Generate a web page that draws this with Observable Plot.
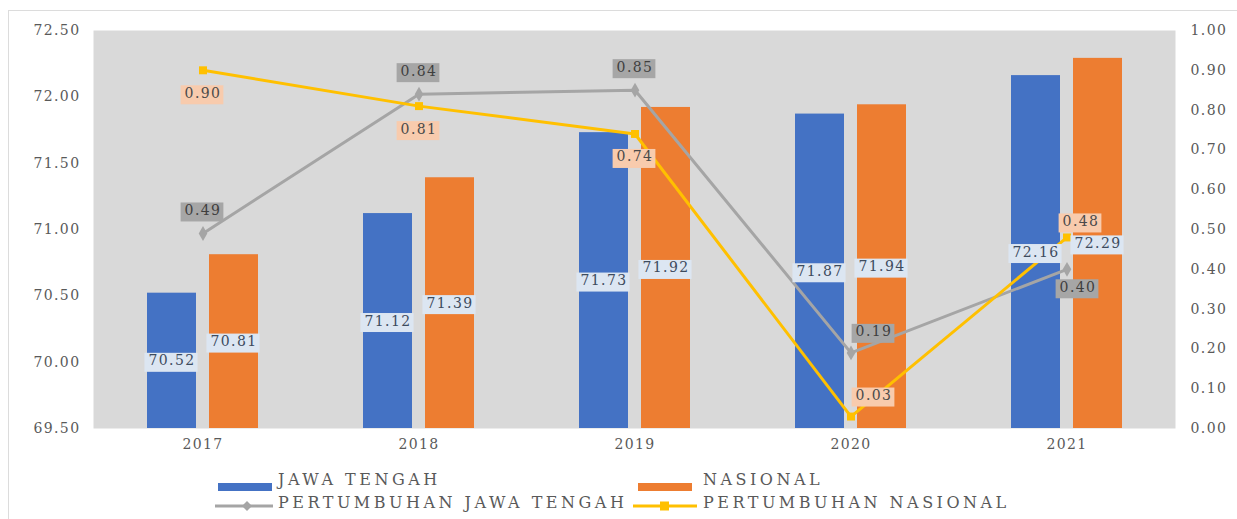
<!DOCTYPE html>
<html>
<head>
<meta charset="utf-8">
<script src="https://cdn.jsdelivr.net/npm/d3@7"></script>
<script src="https://cdn.jsdelivr.net/npm/@observablehq/plot@0.6"></script>
<style>
  html, body { margin: 0; padding: 0; background: #ffffff; }
  body { width: 1237px; height: 519px; position: relative; overflow: hidden; font-family: "DejaVu Serif", serif; }
  #frame { position: absolute; left: 8px; top: 10px; width: 1300px; height: 600px; border: 1px solid #dcdcdc; box-sizing: border-box; }
  #chart { position: absolute; left: 0; top: 0; }
  #chart svg text { letter-spacing: 1.4px; }
  .leg { position: absolute; font-family: "DejaVu Serif", serif; font-size: 16px; color: #595959; letter-spacing: 3.5px; white-space: nowrap; line-height: 20px; }
  .sw { position: absolute; }
</style>
</head>
<body>
<div id="frame"></div>
<div id="chart"></div>
<div id="legend"></div>
<script>
// ---- data ----
const years = ["2017", "2018", "2019", "2020", "2021"];
const jawaTengah = [70.52, 71.12, 71.73, 71.87, 72.16];
const nasional = [70.81, 71.39, 71.92, 71.94, 72.29];
const pertumbuhanJawaTengah = [0.49, 0.84, 0.85, 0.19, 0.40];
const pertumbuhanNasional = [0.90, 0.81, 0.74, 0.03, 0.48];
const leftTicks = [69.5, 70.0, 70.5, 71.0, 71.5, 72.0, 72.5];
const rightTicks = [0, 0.1, 0.2, 0.3, 0.4, 0.5, 0.6, 0.7, 0.8, 0.9, 1.0];
const seriesNames = ["JAWA TENGAH", "NASIONAL", "PERTUMBUHAN JAWA TENGAH", "PERTUMBUHAN NASIONAL"];
// label placement (layout only)
const jtLabelPlace = ["above", "above", "above", "upRight", "downRight"];
const nsLabelPlace = ["below", "below", "below", "upRight", "upRightNear"];
const placeOffsets = {
  above: [0, -23], below: [0, 23], upRight: [23, -21], downRight: [11, 18], upRightNear: [14, -16]
};

// ---- scales mapping for secondary axis ----
const leftDomain = [69.5, 72.5];
const rightDomain = [0, 1];
const toLeft = v => leftDomain[0] + (v - rightDomain[0]) * (leftDomain[1] - leftDomain[0]) / (rightDomain[1] - rightDomain[0]);
const fromLeft = y => rightDomain[0] + (y - leftDomain[0]) * (rightDomain[1] - rightDomain[0]) / (leftDomain[1] - leftDomain[0]);

const rows = years.map((year, i) => ({
  year, jt: jawaTengah[i], ns: nasional[i], gjt: pertumbuhanJawaTengah[i], gns: pertumbuhanNasional[i],
  jtPlace: jtLabelPlace[i], nsPlace: nsLabelPlace[i]
}));

const blue = "#4472c4", orange = "#ed7d31", grayLine = "#a5a5a5", yellow = "#ffc000";

const labelMarks = [];
const labelBg = [];
// bar labels
labelMarks.push(Plot.text(rows, {x: "year", y: d => (leftDomain[0] + d.jt) / 2, text: d => d.jt.toFixed(2), dx: -31, fill: "#3d4b5e", fontSize: 14}));
labelBg.push("#dce6f2");
labelMarks.push(Plot.text(rows, {x: "year", y: d => (leftDomain[0] + d.ns) / 2, text: d => d.ns.toFixed(2), dx: 31, fill: "#3d4b5e", fontSize: 14}));
labelBg.push("#dce6f2");
// growth labels
for (const [place, [dx, dy]] of Object.entries(placeOffsets)) {
  const g = rows.filter(d => d.jtPlace === place);
  if (g.length) {
    labelMarks.push(Plot.text(g, {x: "year", y: d => toLeft(d.gjt), text: d => d.gjt.toFixed(2), dx, dy, fill: "#3f3f3f", fontSize: 14}));
    labelBg.push("#a6a6a6");
  }
}
for (const [place, [dx, dy]] of Object.entries(placeOffsets)) {
  const g = rows.filter(d => d.nsPlace === place);
  if (g.length) {
    labelMarks.push(Plot.text(g, {x: "year", y: d => toLeft(d.gns), text: d => d.gns.toFixed(2), dx, dy, fill: "#4a4a4a", fontSize: 14}));
    labelBg.push("#f8cbad");
  }
}

const chart = Plot.plot({
  width: 1237,
  height: 456,
  marginLeft: 93,
  marginRight: 62,
  marginTop: 30,
  marginBottom: 28,
  style: {fontFamily: "DejaVu Serif, serif", fontSize: "14px", color: "#595959", background: "transparent", overflow: "visible"},
  x: {domain: years, paddingInner: 0.487, paddingOuter: 0.2435, axis: null},
  y: {domain: leftDomain, axis: null},
  marks: [
    Plot.frame({fill: "#d9d9d9", stroke: "none"}),
    Plot.barY(rows, {x: "year", y1: leftDomain[0], y2: "jt", fill: blue, insetRight: 62}),
    Plot.barY(rows, {x: "year", y1: leftDomain[0], y2: "ns", fill: orange, insetLeft: 62}),
    Plot.line(rows, {x: "year", y: d => toLeft(d.gjt), stroke: grayLine, strokeWidth: 3}),
    Plot.line(rows, {x: "year", y: d => toLeft(d.gns), stroke: yellow, strokeWidth: 3}),
    Plot.dot(rows, {x: "year", y: d => toLeft(d.gjt), symbol: "diamond", r: 4.5, fill: grayLine, stroke: null}),
    Plot.dot(rows, {x: "year", y: d => toLeft(d.gns), symbol: "square", r: 4.5, fill: yellow, stroke: null}),
    ...labelMarks,
    Plot.axisX({tickSize: 0, tickPadding: 11, label: null, fill: "#595959", fontSize: 14}),
    Plot.axisY(leftTicks, {anchor: "left", tickSize: 0, tickPadding: 13, label: null, tickFormat: d => d.toFixed(2), fill: "#595959", fontSize: 14}),
    Plot.axisY(rightTicks.map(toLeft), {anchor: "right", tickSize: 0, tickPadding: 15, label: null, tickFormat: d => fromLeft(d).toFixed(2), fill: "#595959", fontSize: 14})
  ]
});
document.getElementById("chart").appendChild(chart);

// label background boxes
const svgNS = "http://www.w3.org/2000/svg";
const groups = chart.querySelectorAll('g[aria-label="text"]');
groups.forEach((g, i) => {
  const bg = labelBg[i];
  if (!bg) return;
  g.querySelectorAll("text").forEach(t => {
    const b = t.getBBox();
    const r = document.createElementNS(svgNS, "rect");
    r.setAttribute("x", b.x - 4);
    r.setAttribute("y", b.y + 0.5);
    r.setAttribute("width", b.width + 6);
    r.setAttribute("height", b.height + 3);
    r.setAttribute("fill", bg);
    if (t.getAttribute("transform")) r.setAttribute("transform", t.getAttribute("transform"));
    g.insertBefore(r, t);
  });
});

// legend
const legend = document.getElementById("legend");
function addText(txt, x, yc) {
  const d = document.createElement("div");
  d.className = "leg"; d.textContent = txt;
  d.style.left = x + "px"; d.style.top = (yc - 10) + "px";
  legend.appendChild(d);
}
function addSvg(html, x, y, w, h) {
  const d = document.createElement("div");
  d.className = "sw";
  d.style.left = x + "px"; d.style.top = y + "px";
  d.innerHTML = `<svg width="${w}" height="${h}">${html}</svg>`;
  legend.appendChild(d);
}
const r1 = 480, r2 = 503;
addSvg(`<rect x="0" y="0" width="54" height="8" fill="${blue}"/>`, 218, r1 - 4, 54, 8);
addText(seriesNames[0], 278, r1);
addSvg(`<rect x="0" y="0" width="54" height="8" fill="${orange}"/>`, 638, r1 - 4, 54, 8);
addText(seriesNames[1], 703, r1);
addSvg(`<line x1="0" y1="6" x2="58" y2="6" stroke="${grayLine}" stroke-width="3"/><path d="M32 1 L37 6 L32 11 L27 6 Z" fill="${grayLine}"/>`, 215, r2 - 6, 58, 12);
addText(seriesNames[2], 278, r2);
addSvg(`<line x1="0" y1="6" x2="64" y2="6" stroke="${yellow}" stroke-width="3"/><rect x="27" y="1.5" width="9" height="9" fill="${yellow}"/>`, 633, r2 - 6, 64, 12);
addText(seriesNames[3], 703, r2);
</script>
</body>
</html>
